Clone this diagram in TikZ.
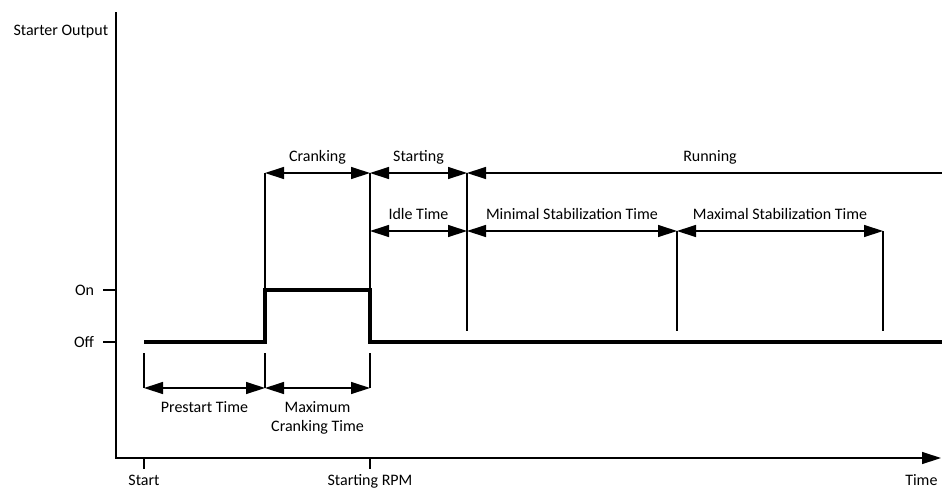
\documentclass[tikz,border=0pt]{standalone}
\usepackage{fontspec}
\setmainfont{Carlito}
\usetikzlibrary{arrows.meta, positioning}

\begin{document}
\begin{tikzpicture}[x=1pt, y=-1pt, font=\fontsize{16}{19}\selectfont,
    thin line/.style={line width=1.3pt},
    signal/.style={line width=4pt},
    tip/.tip={Triangle[length=19pt, width=12pt]},
    span/.style={thin line, tip-tip},
    lbl/.style={anchor=base, yshift=11.5pt},
    below lbl/.style={anchor=base, align=center}]
  \useasboundingbox (0,0) rectangle (942,491);
  % time markers
  \coordinate (tstart) at (144,0);
  \coordinate (tcrank) at (265,0);
  \coordinate (trpm)   at (370,0);
  \coordinate (tidle)  at (467,0);
  \coordinate (tmin)   at (677,0);
  \coordinate (tmax)   at (883,0);
  % axes
  \coordinate (ytop) at (116,12);
  \coordinate (origin) at (116,458);
  \coordinate (xend) at (941,458);
  \draw[thin line, -tip] (ytop) -- (origin) -- (xend);
  \node[anchor=base west] (ylabel) at (10,35) {Starter Output};
  \node[anchor=base east] (xlabel) at (941,485) {Time};
  % y ticks
  \coordinate (on) at (116,290);
  \coordinate (off) at (116,342);
  \draw[thin line] (on) -- ++(-13,0) node[left=5pt] (onlbl) {On};
  \draw[thin line] (off) -- ++(-13,0) node[left=5pt] (offlbl) {Off};
  % x ticks
  \draw[thin line] (tstart |- origin) -- ++(0,11);
  \draw[thin line] (trpm |- origin) -- ++(0,11);
  \node[anchor=base] (startlbl) at (tstart |- 0,485) {Start};
  \node[anchor=base] (rpmlbl) at (trpm |- 0,485) {Starting RPM};
  % starter output
  \draw[signal] (tstart |- off) -| (tcrank |- on) -| (trpm |- off) -- (942,342);
  % marker lines
  \draw[thin line] (tstart |- 0,353) -- (tstart |- 0,388);
  \draw[thin line] (tcrank |- 0,353) -- (tcrank |- 0,388);
  \draw[thin line] (trpm |- 0,353) -- (trpm |- 0,388);
  \draw[thin line] (tcrank |- 0,173) -- (tcrank |- on);
  \draw[thin line] (trpm |- 0,173) -- (trpm |- on);
  \draw[thin line] (tidle |- 0,173) -- (tidle |- 0,331);
  \draw[thin line] (tmin |- 0,231) -- (tmin |- 0,331);
  \draw[thin line] (tmax |- 0,231) -- (tmax |- 0,331);
  % phases
  \draw[span] (tcrank |- 0,173) -- (trpm |- 0,173) node[midway, lbl] (crank) {Cranking};
  \draw[span] (trpm |- 0,173) -- (tidle |- 0,173) node[midway, lbl] (starting) {Starting};
  \draw[thin line, tip-] (tidle |- 0,173) -- (942,173);
  \node[anchor=base] (running) at (710,161.5) {Running};
  % timers
  \draw[span] (trpm |- 0,231) -- (tidle |- 0,231) node[midway, lbl] (idle) {Idle Time};
  \draw[span] (tidle |- 0,231) -- (tmin |- 0,231) node[midway, lbl] (minstab) {Minimal Stabilization Time};
  \draw[span] (tmin |- 0,231) -- (tmax |- 0,231) node[midway, lbl] (maxstab) {Maximal Stabilization Time};
  \draw[span] (tstart |- 0,388) -- (tcrank |- 0,388);
  \draw[span] (tcrank |- 0,388) -- (trpm |- 0,388);
  \node[below lbl] (prestart) at (204.5,412) {Prestart Time};
  \node[below lbl] (maxcrank) at (317.5,431) {Maximum\\Cranking Time};
\end{tikzpicture}
\end{document}
